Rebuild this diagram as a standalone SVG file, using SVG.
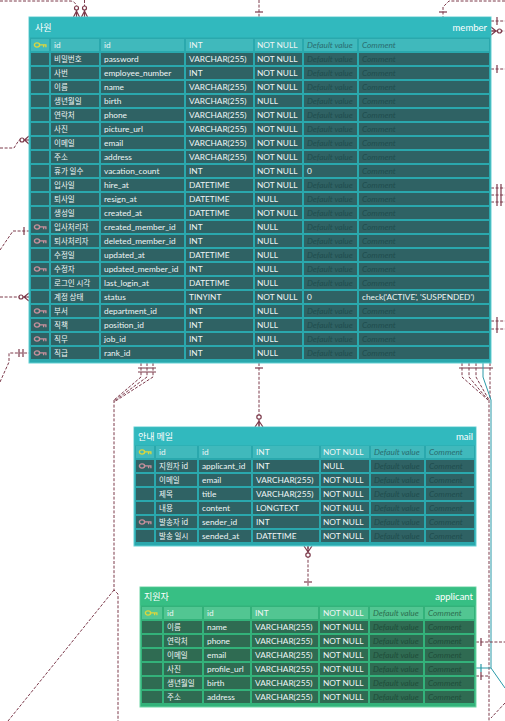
<svg xmlns="http://www.w3.org/2000/svg" xmlns:xlink="http://www.w3.org/1999/xlink" width="505" height="721" viewBox="0 0 505 721">
<style>
.c{fill:none;stroke:#7c3a4b;stroke-width:1;stroke-dasharray:3 1.6}
.m{fill:none;stroke:#7c3a4b;stroke-width:1.2}
.o{fill:#fff;stroke:#7c3a4b;stroke-width:1.2}
.tc{fill:none;stroke:#2a9aa8;stroke-width:1}
.tm{fill:none;stroke:#2a9aa8;stroke-width:1.2}
.bgT{fill:#2aa8ad;stroke:#62d0d3;stroke-width:1}
.hdT{fill:#31b9be}
.chT{fill:#40b9bc}
.rT{fill:#2f6264}
.sT{fill:#2aa8ad}
.bgG{fill:#33b27a;stroke:#6fd6a6;stroke-width:1}
.hdG{fill:#37bf84}
.chG{fill:#52c692}
.rG{fill:#2f6b52}
.sG{fill:#33b27a}
text{font-family:Lato,"Noto Sans CJK KR",sans-serif;font-size:8.3px;fill:#eef5f5}
text.k{font-family:"Noto Sans CJK KR",sans-serif;font-size:7.5px}
text.ph{font-style:italic;fill:#1f4d4e}
text.phh{font-style:italic;fill:#2a6c6f}
text.phG{font-style:italic;fill:#1f4e3a}
text.phhG{font-style:italic;fill:#2c6e4f}
text.ti{font-family:"Noto Sans CJK KR",sans-serif;font-size:9px;fill:#ffffff}
text.tn{font-size:9.5px;fill:#ffffff;text-anchor:end}
</style>
<defs>
<g id="key">
<ellipse cx="3" cy="3" rx="2.6" ry="2.1" fill="none" stroke="currentColor" stroke-width="1.4"/>
<path d="M5.6,2.8 H12.5 M9.6,2.8 V5.2 M11.9,2.8 V5.2" fill="none" stroke="currentColor" stroke-width="1.3"/>
</g>
</defs>
<rect width="505" height="721" fill="#ffffff"/>

<g id="connectors">
<!-- top left -->
<path class="c" d="M0,1 H70 Q75,1 76.5,6 V17"/>
<path class="c" d="M84.5,0 V17"/>
<circle class="o" cx="76.5" cy="8" r="2"/>
<path class="m" d="M73.5,17 L76.5,11 L79.5,17 M76.5,11 V17"/>
<circle class="o" cx="84.5" cy="8" r="2"/>
<path class="m" d="M81.5,17 L84.5,11 L87.5,17 M84.5,11 V17"/>
<!-- top middle -->
<path class="c" d="M259,0 V17"/>
<path class="m" d="M255,12 H263"/>
<!-- top right -->
<path class="c" d="M505,1 H449 L443,7 V17"/>
<path class="m" d="M439,12 H447"/>
<!-- right side self relation -->
<path class="c" d="M491,21 H505"/>
<path class="m" d="M497,17 V25"/>
<path class="c" d="M491,31 H505"/>
<path class="m" d="M491,27 L496,31 L491,35 M491,31 H496"/>
<circle class="o" cx="499.5" cy="31" r="2"/>
<path class="c" d="M491,69 H505"/>
<path class="m" d="M497,65 V73"/>
<path class="c" d="M491,188 H505 M491,195 H505 M491,202 H505"/>
<path class="m" d="M497,184 V206 M501,184 V206"/>
<path class="c" d="M491,321 H505 M491,329 H505"/>
<path class="m" d="M497,317 V333"/>
<!-- left side -->
<path class="c" d="M0,148 H14 L19,140 H29"/>
<circle class="o" cx="22" cy="140" r="2"/>
<path class="m" d="M29,136 L24.5,140 L29,144 M24.5,140 H29"/>
<path class="c" d="M0,250 L13,231 H29"/>
<path class="m" d="M24,227 V235"/>
<path class="c" d="M0,297 H29"/>
<circle class="o" cx="21" cy="297" r="2"/>
<path class="m" d="M29,293 L24,297 L29,301 M24,297 H29"/>
<path class="c" d="M0,382 L9,362 V353 H29"/>
<path class="m" d="M19,349 V357 M23,349 V357"/>
<!-- bottom left of member -->
<path class="c" d="M141,363 V377 L114,400 M147,363 V377 L114,401 M153,363 V377 L114,402"/>
<path class="m" d="M138,368 H156 M138,372 H156"/>
<path class="c" d="M114,400 V590 L118,594 V721"/>
<path class="c" d="M114,590 L8,721"/>
<!-- member to mail -->
<path class="c" d="M259,363 V427"/>
<path class="m" d="M255,368 H263"/>
<circle class="o" cx="259" cy="417" r="2.2"/>
<path class="m" d="M255,427 L259,421 L263,427 M259,421 V427"/>
<!-- mail to applicant -->
<path class="c" d="M308,546 V587"/>
<path class="m" d="M304,546 L308,552 L312,546 M308,546 V552"/>
<circle class="o" cx="308" cy="555" r="2.2"/>
<path class="m" d="M304,582 H312"/>
<!-- member bottom right -->
<path class="c" d="M462,363 V377 L488,400 M469,363 V377 L488,400 M476,363 V377 L489,400 M490,363 V400"/>
<path class="c" d="M489,400 V721"/>
<path class="m" d="M459,368 H493"/>
<path class="tc" d="M483,363 V377 L491,400 V668 L505,688"/>
<path class="tc" d="M476,668 H491"/>
<path class="tm" d="M481,664 V672"/>
<!-- applicant right -->
<path class="c" d="M476,642 H505"/>
<path class="m" d="M481,638 V646"/>
<path class="c" d="M476,676 H490"/>
<path class="m" d="M481,672 V680"/>
<path class="c" d="M505,703 L491,718"/>
</g>

<g id="member">
<rect class="bgT" x="29" y="17" width="462" height="346"/>
<rect class="hdT" x="29.5" y="17.5" width="461" height="20"/>
<text class="ti" x="35" y="31">사원</text>
<text class="tn" x="487" y="31">member</text>
<g transform="translate(0,39)"><rect class="chT" x="31" width="458" height="12"/><use href="#key" x="34" y="3" style="color:#dcd63c"/><text x="54" y="9">id</text><text x="104" y="9">id</text><text x="189" y="9">INT</text><text x="257" y="9">NOT NULL</text><text class="phh" x="307" y="9">Default value</text><text class="phh" x="362" y="9">Comment</text></g>
<g transform="translate(0,53)"><rect class="rT" x="31" width="458" height="12"/><text class="k" x="54" y="9">비밀번호</text><text x="104" y="9">password</text><text x="189" y="9">VARCHAR(255)</text><text x="257" y="9">NOT NULL</text><text class="ph" x="307" y="9">Default value</text><text class="ph" x="362" y="9">Comment</text></g>
<g transform="translate(0,67)"><rect class="rT" x="31" width="458" height="12"/><text class="k" x="54" y="9">사번</text><text x="104" y="9">employee_number</text><text x="189" y="9">INT</text><text x="257" y="9">NOT NULL</text><text class="ph" x="307" y="9">Default value</text><text class="ph" x="362" y="9">Comment</text></g>
<g transform="translate(0,81)"><rect class="rT" x="31" width="458" height="12"/><text class="k" x="54" y="9">이름</text><text x="104" y="9">name</text><text x="189" y="9">VARCHAR(255)</text><text x="257" y="9">NOT NULL</text><text class="ph" x="307" y="9">Default value</text><text class="ph" x="362" y="9">Comment</text></g>
<g transform="translate(0,95)"><rect class="rT" x="31" width="458" height="12"/><text class="k" x="54" y="9">생년월일</text><text x="104" y="9">birth</text><text x="189" y="9">VARCHAR(255)</text><text x="257" y="9">NULL</text><text class="ph" x="307" y="9">Default value</text><text class="ph" x="362" y="9">Comment</text></g>
<g transform="translate(0,109)"><rect class="rT" x="31" width="458" height="12"/><text class="k" x="54" y="9">연락처</text><text x="104" y="9">phone</text><text x="189" y="9">VARCHAR(255)</text><text x="257" y="9">NOT NULL</text><text class="ph" x="307" y="9">Default value</text><text class="ph" x="362" y="9">Comment</text></g>
<g transform="translate(0,123)"><rect class="rT" x="31" width="458" height="12"/><text class="k" x="54" y="9">사진</text><text x="104" y="9">picture_url</text><text x="189" y="9">VARCHAR(255)</text><text x="257" y="9">NOT NULL</text><text class="ph" x="307" y="9">Default value</text><text class="ph" x="362" y="9">Comment</text></g>
<g transform="translate(0,137)"><rect class="rT" x="31" width="458" height="12"/><text class="k" x="54" y="9">이메일</text><text x="104" y="9">email</text><text x="189" y="9">VARCHAR(255)</text><text x="257" y="9">NOT NULL</text><text class="ph" x="307" y="9">Default value</text><text class="ph" x="362" y="9">Comment</text></g>
<g transform="translate(0,151)"><rect class="rT" x="31" width="458" height="12"/><text class="k" x="54" y="9">주소</text><text x="104" y="9">address</text><text x="189" y="9">VARCHAR(255)</text><text x="257" y="9">NOT NULL</text><text class="ph" x="307" y="9">Default value</text><text class="ph" x="362" y="9">Comment</text></g>
<g transform="translate(0,165)"><rect class="rT" x="31" width="458" height="12"/><text class="k" x="54" y="9">휴가 일수</text><text x="104" y="9">vacation_count</text><text x="189" y="9">INT</text><text x="257" y="9">NOT NULL</text><text x="307" y="9">0</text><text class="ph" x="362" y="9">Comment</text></g>
<g transform="translate(0,179)"><rect class="rT" x="31" width="458" height="12"/><text class="k" x="54" y="9">입사일</text><text x="104" y="9">hire_at</text><text x="189" y="9">DATETIME</text><text x="257" y="9">NOT NULL</text><text class="ph" x="307" y="9">Default value</text><text class="ph" x="362" y="9">Comment</text></g>
<g transform="translate(0,193)"><rect class="rT" x="31" width="458" height="12"/><text class="k" x="54" y="9">퇴사일</text><text x="104" y="9">resign_at</text><text x="189" y="9">DATETIME</text><text x="257" y="9">NULL</text><text class="ph" x="307" y="9">Default value</text><text class="ph" x="362" y="9">Comment</text></g>
<g transform="translate(0,207)"><rect class="rT" x="31" width="458" height="12"/><text class="k" x="54" y="9">생성일</text><text x="104" y="9">created_at</text><text x="189" y="9">DATETIME</text><text x="257" y="9">NOT NULL</text><text class="ph" x="307" y="9">Default value</text><text class="ph" x="362" y="9">Comment</text></g>
<g transform="translate(0,221)"><rect class="rT" x="31" width="458" height="12"/><use href="#key" x="34" y="3" style="color:#c8909c"/><text class="k" x="54" y="9">입사처리자</text><text x="104" y="9">created_member_id</text><text x="189" y="9">INT</text><text x="257" y="9">NULL</text><text class="ph" x="307" y="9">Default value</text><text class="ph" x="362" y="9">Comment</text></g>
<g transform="translate(0,235)"><rect class="rT" x="31" width="458" height="12"/><use href="#key" x="34" y="3" style="color:#c8909c"/><text class="k" x="54" y="9">퇴사처리자</text><text x="104" y="9">deleted_member_id</text><text x="189" y="9">INT</text><text x="257" y="9">NULL</text><text class="ph" x="307" y="9">Default value</text><text class="ph" x="362" y="9">Comment</text></g>
<g transform="translate(0,249)"><rect class="rT" x="31" width="458" height="12"/><text class="k" x="54" y="9">수정일</text><text x="104" y="9">updated_at</text><text x="189" y="9">DATETIME</text><text x="257" y="9">NULL</text><text class="ph" x="307" y="9">Default value</text><text class="ph" x="362" y="9">Comment</text></g>
<g transform="translate(0,263)"><rect class="rT" x="31" width="458" height="12"/><use href="#key" x="34" y="3" style="color:#c8909c"/><text class="k" x="54" y="9">수정자</text><text x="104" y="9">updated_member_id</text><text x="189" y="9">INT</text><text x="257" y="9">NULL</text><text class="ph" x="307" y="9">Default value</text><text class="ph" x="362" y="9">Comment</text></g>
<g transform="translate(0,277)"><rect class="rT" x="31" width="458" height="12"/><text class="k" x="54" y="9">로그인 시각</text><text x="104" y="9">last_login_at</text><text x="189" y="9">DATETIME</text><text x="257" y="9">NULL</text><text class="ph" x="307" y="9">Default value</text><text class="ph" x="362" y="9">Comment</text></g>
<g transform="translate(0,291)"><rect class="rT" x="31" width="458" height="12"/><text class="k" x="54" y="9">계정 상태</text><text x="104" y="9">status</text><text x="189" y="9">TINYINT</text><text x="257" y="9">NOT NULL</text><text x="307" y="9">0</text><text x="362" y="9">check('ACTIVE', 'SUSPENDED')</text></g>
<g transform="translate(0,305)"><rect class="rT" x="31" width="458" height="12"/><use href="#key" x="34" y="3" style="color:#c8909c"/><text class="k" x="54" y="9">부서</text><text x="104" y="9">department_id</text><text x="189" y="9">INT</text><text x="257" y="9">NULL</text><text class="ph" x="307" y="9">Default value</text><text class="ph" x="362" y="9">Comment</text></g>
<g transform="translate(0,319)"><rect class="rT" x="31" width="458" height="12"/><use href="#key" x="34" y="3" style="color:#c8909c"/><text class="k" x="54" y="9">직책</text><text x="104" y="9">position_id</text><text x="189" y="9">INT</text><text x="257" y="9">NULL</text><text class="ph" x="307" y="9">Default value</text><text class="ph" x="362" y="9">Comment</text></g>
<g transform="translate(0,333)"><rect class="rT" x="31" width="458" height="12"/><use href="#key" x="34" y="3" style="color:#c8909c"/><text class="k" x="54" y="9">직무</text><text x="104" y="9">job_id</text><text x="189" y="9">INT</text><text x="257" y="9">NULL</text><text class="ph" x="307" y="9">Default value</text><text class="ph" x="362" y="9">Comment</text></g>
<g transform="translate(0,347)"><rect class="rT" x="31" width="458" height="12"/><use href="#key" x="34" y="3" style="color:#c8909c"/><text class="k" x="54" y="9">직급</text><text x="104" y="9">rank_id</text><text x="189" y="9">INT</text><text x="257" y="9">NULL</text><text class="ph" x="307" y="9">Default value</text><text class="ph" x="362" y="9">Comment</text></g>
<rect class="sT" x="49" y="39" width="2" height="320"/>
<rect class="sT" x="99" y="39" width="2" height="320"/>
<rect class="sT" x="184" y="39" width="2" height="320"/>
<rect class="sT" x="253" y="39" width="2" height="320"/>
<rect class="sT" x="302" y="39" width="2" height="320"/>
<rect class="sT" x="357" y="39" width="2" height="320"/>
</g>

<g id="mail">
<rect class="bgT" x="134" y="427" width="342" height="119"/>
<rect class="hdT" x="134.5" y="427.5" width="341" height="18"/>
<text class="ti" x="138" y="440">안내 메일</text>
<text class="tn" x="473" y="440">mail</text>
<g transform="translate(0,446)"><rect class="chT" x="136" width="338" height="12"/><use href="#key" x="139" y="3" style="color:#dcd63c"/><text x="159" y="9">id</text><text x="202" y="9">id</text><text x="256" y="9">INT</text><text x="323" y="9">NOT NULL</text><text class="phh" x="374" y="9">Default value</text><text class="phh" x="429" y="9">Comment</text></g>
<g transform="translate(0,460)"><rect class="rT" x="136" width="338" height="12"/><use href="#key" x="139" y="3" style="color:#c8909c"/><text class="k" x="159" y="9">지원자 id</text><text x="202" y="9">applicant_id</text><text x="256" y="9">INT</text><text x="323" y="9">NULL</text><text class="ph" x="374" y="9">Default value</text><text class="ph" x="429" y="9">Comment</text></g>
<g transform="translate(0,474)"><rect class="rT" x="136" width="338" height="12"/><text class="k" x="159" y="9">이메일</text><text x="202" y="9">email</text><text x="256" y="9">VARCHAR(255)</text><text x="323" y="9">NOT NULL</text><text class="ph" x="374" y="9">Default value</text><text class="ph" x="429" y="9">Comment</text></g>
<g transform="translate(0,488)"><rect class="rT" x="136" width="338" height="12"/><text class="k" x="159" y="9">제목</text><text x="202" y="9">title</text><text x="256" y="9">VARCHAR(255)</text><text x="323" y="9">NOT NULL</text><text class="ph" x="374" y="9">Default value</text><text class="ph" x="429" y="9">Comment</text></g>
<g transform="translate(0,502)"><rect class="rT" x="136" width="338" height="12"/><text class="k" x="159" y="9">내용</text><text x="202" y="9">content</text><text x="256" y="9">LONGTEXT</text><text x="323" y="9">NOT NULL</text><text class="ph" x="374" y="9">Default value</text><text class="ph" x="429" y="9">Comment</text></g>
<g transform="translate(0,516)"><rect class="rT" x="136" width="338" height="12"/><use href="#key" x="139" y="3" style="color:#c8909c"/><text class="k" x="159" y="9">발송자 id</text><text x="202" y="9">sender_id</text><text x="256" y="9">INT</text><text x="323" y="9">NOT NULL</text><text class="ph" x="374" y="9">Default value</text><text class="ph" x="429" y="9">Comment</text></g>
<g transform="translate(0,530)"><rect class="rT" x="136" width="338" height="12"/><text class="k" x="159" y="9">발송 일시</text><text x="202" y="9">sended_at</text><text x="256" y="9">DATETIME</text><text x="323" y="9">NOT NULL</text><text class="ph" x="374" y="9">Default value</text><text class="ph" x="429" y="9">Comment</text></g>
<rect class="sT" x="154" y="446" width="2" height="96"/>
<rect class="sT" x="197" y="446" width="2" height="96"/>
<rect class="sT" x="251" y="446" width="2" height="96"/>
<rect class="sT" x="319" y="446" width="2" height="96"/>
<rect class="sT" x="369" y="446" width="2" height="96"/>
<rect class="sT" x="424" y="446" width="2" height="96"/>
</g>

<g id="applicant">
<rect class="bgG" x="140" y="587" width="336" height="120"/>
<rect class="hdG" x="140.5" y="587.5" width="335" height="18"/>
<text class="ti" x="144" y="600">지원자</text>
<text class="tn" x="473" y="600">applicant</text>
<g transform="translate(0,607)"><rect class="chG" x="142" width="332" height="12"/><use href="#key" x="145" y="3" style="color:#dcd63c"/><text x="167" y="9">id</text><text x="207" y="9">id</text><text x="255" y="9">INT</text><text x="323" y="9">NOT NULL</text><text class="phhG" x="373" y="9">Default value</text><text class="phhG" x="428" y="9">Comment</text></g>
<g transform="translate(0,621)"><rect class="rG" x="142" width="332" height="12"/><text class="k" x="167" y="9">이름</text><text x="207" y="9">name</text><text x="255" y="9">VARCHAR(255)</text><text x="323" y="9">NOT NULL</text><text class="phG" x="373" y="9">Default value</text><text class="phG" x="428" y="9">Comment</text></g>
<g transform="translate(0,635)"><rect class="rG" x="142" width="332" height="12"/><text class="k" x="167" y="9">연락처</text><text x="207" y="9">phone</text><text x="255" y="9">VARCHAR(255)</text><text x="323" y="9">NOT NULL</text><text class="phG" x="373" y="9">Default value</text><text class="phG" x="428" y="9">Comment</text></g>
<g transform="translate(0,649)"><rect class="rG" x="142" width="332" height="12"/><text class="k" x="167" y="9">이메일</text><text x="207" y="9">email</text><text x="255" y="9">VARCHAR(255)</text><text x="323" y="9">NOT NULL</text><text class="phG" x="373" y="9">Default value</text><text class="phG" x="428" y="9">Comment</text></g>
<g transform="translate(0,663)"><rect class="rG" x="142" width="332" height="12"/><text class="k" x="167" y="9">사진</text><text x="207" y="9">profile_url</text><text x="255" y="9">VARCHAR(255)</text><text x="323" y="9">NOT NULL</text><text class="phG" x="373" y="9">Default value</text><text class="phG" x="428" y="9">Comment</text></g>
<g transform="translate(0,677)"><rect class="rG" x="142" width="332" height="12"/><text class="k" x="167" y="9">생년월일</text><text x="207" y="9">birth</text><text x="255" y="9">VARCHAR(255)</text><text x="323" y="9">NOT NULL</text><text class="phG" x="373" y="9">Default value</text><text class="phG" x="428" y="9">Comment</text></g>
<g transform="translate(0,691)"><rect class="rG" x="142" width="332" height="12"/><text class="k" x="167" y="9">주소</text><text x="207" y="9">address</text><text x="255" y="9">VARCHAR(255)</text><text x="323" y="9">NOT NULL</text><text class="phG" x="373" y="9">Default value</text><text class="phG" x="428" y="9">Comment</text></g>
<rect class="sG" x="162" y="607" width="2" height="96"/>
<rect class="sG" x="202" y="607" width="2" height="96"/>
<rect class="sG" x="250" y="607" width="2" height="96"/>
<rect class="sG" x="318" y="607" width="2" height="96"/>
<rect class="sG" x="368" y="607" width="2" height="96"/>
<rect class="sG" x="423" y="607" width="2" height="96"/>
</g>
</svg>
